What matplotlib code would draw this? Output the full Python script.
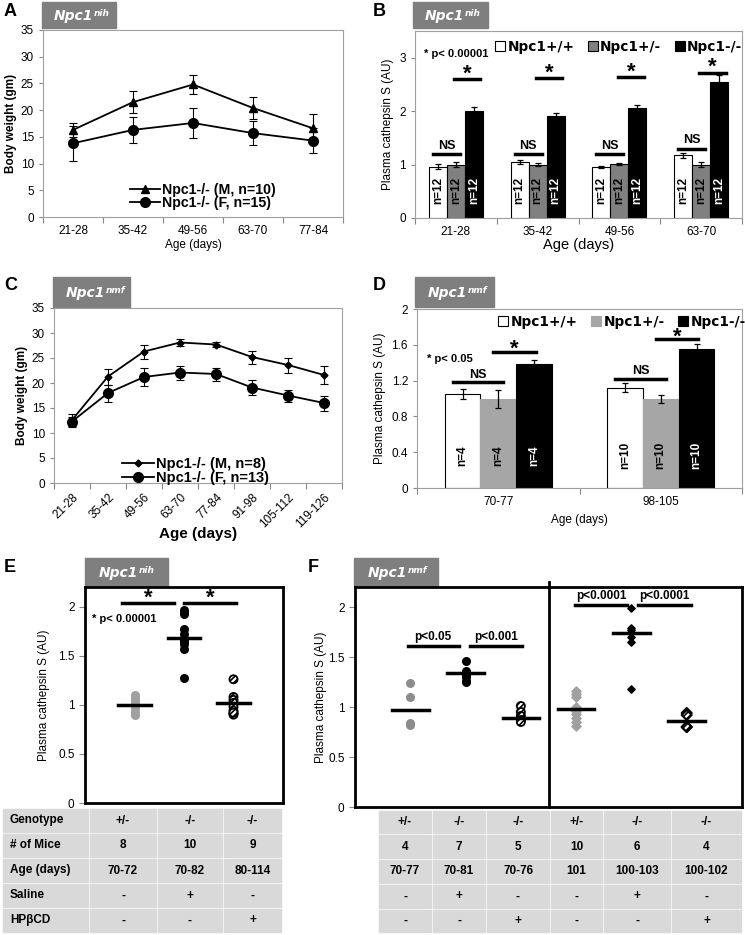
import numpy as np
import matplotlib
matplotlib.use('Agg')
from matplotlib import pyplot as plt
from matplotlib.patches import Rectangle
from matplotlib.ticker import FuncFormatter

plt.rcParams['font.family'] = ['Liberation Sans', 'DejaVu Sans']
plt.rcParams['hatch.linewidth'] = 1.2

W, H = 745, 935

# ---------------- Daten ----------------
# A: Koerpergewicht Npc1nih
alter_a = ['21-28', '35-42', '49-56', '63-70', '77-84']
a_maennlich = [16.3, 21.5, 24.8, 20.4, 16.6]
a_maennlich_err = [1.3, 2.0, 1.8, 2.1, 2.7]
a_weiblich = [13.8, 16.3, 17.6, 15.7, 14.3]
a_weiblich_err = [3.3, 2.5, 2.8, 2.2, 2.3]

# B: Cathepsin S Npc1nih
alter_b = ['21-28', '35-42', '49-56', '63-70']
b_wt = [0.96, 1.05, 0.95, 1.17]
b_wt_err = [0.05, 0.03, 0.02, 0.05]
b_het = [1.0, 1.0, 1.01, 1.0]
b_het_err = [0.04, 0.03, 0.02, 0.04]
b_ko = [2.01, 1.90, 2.05, 2.54]
b_ko_err = [0.07, 0.07, 0.06, 0.14]
b_n = ['n=12', 'n=12', 'n=12', 'n=12']
b_ns_hoehe = [1.2, 1.2, 1.2, 1.3]
b_stern_hoehe = [2.6, 2.62, 2.64, 2.72]

# C: Koerpergewicht Npc1nmf
alter_c = ['21-28', '35-42', '49-56', '63-70', '77-84', '91-98', '105-112', '119-126']
c_maennlich = [12.6, 21.3, 26.3, 28.1, 27.7, 25.2, 23.6, 21.6]
c_maennlich_err = [1.2, 1.6, 1.4, 0.7, 0.5, 1.3, 1.5, 1.8]
c_weiblich = [12.3, 18.0, 21.2, 22.1, 21.8, 19.1, 17.5, 16.0]
c_weiblich_err = [1.0, 1.7, 1.8, 1.4, 1.3, 1.5, 1.2, 1.5]

# D: Cathepsin S Npc1nmf
alter_d = ['70-77', '98-105']
d_wt = [1.05, 1.12]
d_wt_err = [0.06, 0.05]
d_het = [0.99, 0.99]
d_het_err = [0.1, 0.045]
d_ko = [1.39, 1.55]
d_ko_err = [0.045, 0.06]
d_n = ['n=4', 'n=10']
d_ns_hoehe = [1.18, 1.22]
d_stern_hoehe = [1.52, 1.66]

# E: Einzelwerte Npc1nih
e_het = [1.10, 1.08, 1.05, 1.02, 1.00, 0.97, 0.93, 0.90]
e_saline = [1.97, 1.95, 1.93, 1.77, 1.72, 1.67, 1.65, 1.62, 1.57, 1.27]
e_hpbcd = [1.26, 1.08, 1.05, 1.02, 0.98, 0.94, 0.91, 0.90, 0.92]
e_mittel = [1.0, 1.68, 1.02]

e_zeilen = ['Genotype', '# of Mice', 'Age (days)', 'Saline', 'HPβCD']
e_genotyp = ['+/-', '-/-', '-/-']
e_maeuse = ['8', '10', '9']
e_alter = ['70-72', '70-82', '80-114']
e_tab_saline = ['-', '+', '-']
e_tab_hpbcd = ['-', '-', '+']

# F: Einzelwerte Npc1nmf
f_het1 = [1.24, 1.10, 0.84, 0.82]
f_sal1 = [1.46, 1.36, 1.34, 1.33, 1.30, 1.26, 1.25]
f_hp1 = [1.01, 0.95, 0.91, 0.87, 0.85]
f_het2 = [1.16, 1.13, 1.10, 1.00, 0.98, 0.96, 0.93, 0.89, 0.85, 0.81]
f_sal2 = [1.99, 1.79, 1.77, 1.70, 1.65, 1.18]
f_hp2 = [0.94, 0.92, 0.80, 0.80]
f_mittel = [0.97, 1.34, 0.89, 0.98, 1.74, 0.86]
f_p_texte = ['p<0.05', 'p<0.001', 'p<0.0001', 'p<0.0001']

f_genotyp = ['+/-', '-/-', '-/-', '+/-', '-/-', '-/-']
f_maeuse = ['4', '7', '5', '10', '6', '4']
f_alter = ['70-77', '70-81', '70-76', '101', '100-103', '100-102']
f_tab_saline = ['-', '+', '-', '-', '+', '-']
f_tab_hpbcd = ['-', '-', '+', '-', '-', '+']

# ---------------- Figur ----------------
fig = plt.figure(figsize=(W / 100, H / 100), dpi=100)
ov = fig.add_axes([0, 0, 1, 1])
ov.set_xlim(0, W)
ov.set_ylim(H, 0)
ov.axis('off')


def achse(x0, y0, x1, y1):
    return fig.add_axes([x0 / W, 1 - y1 / H, (x1 - x0) / W, (y1 - y0) / H])


def kasten(x0, y0, x1, y1, hoch):
    ov.add_patch(Rectangle((x0, y0), x1 - x0, y1 - y0, color='#7f7f7f'))
    t = ov.text(x0 + (x1 - x0) * 0.16, (y0 + y1) / 2 + 1, 'Npc1', color='white', family='DejaVu Sans',
                fontsize=10, fontweight='bold', fontstyle='italic', va='center', ha='left')
    ov.annotate(hoch, xy=(1.02, 1.0), xycoords=t, color='white', fontsize=6.5, family='DejaVu Sans',
                fontweight='bold', fontstyle='italic', va='top', ha='left')


def buchstabe(x, y, s):
    ov.text(x, y, s, fontsize=13, fontweight='bold', va='top', ha='left')


def excel_stil(ax, n, ymax, ticks, labels, rot=0):
    ax.set_xlim(0, n)
    ax.set_ylim(0, ymax)
    ax.set_xticks(np.arange(n + 1))
    ax.set_xticklabels([])
    ax.set_xticks(np.arange(n) + 0.5, minor=True)
    ax.set_xticklabels(labels, minor=True, fontsize=8.5, rotation=rot,
                       ha='right' if rot else 'center', rotation_mode='anchor' if rot else 'default')
    ax.tick_params(axis='x', which='minor', length=0, pad=6)
    ax.tick_params(axis='x', which='major', length=4, color='#888888')
    ax.set_yticks(ticks)
    ax.yaxis.set_major_formatter(FuncFormatter(lambda v, p: f'{v:g}'))
    ax.tick_params(axis='y', length=3, color='#888888', labelsize=8.5)
    for s in ax.spines.values():
        s.set_color('#a0a0a0')
        s.set_linewidth(0.8)


def linien(ax, x, y, err, marker, ms, label):
    ax.errorbar(x, y, yerr=err, fmt='none', ecolor='k', capsize=3, elinewidth=0.8, capthick=0.8)
    ax.plot(x, y, color='k', marker=marker, ms=ms, lw=1.3, label=label)


bar_legende = dict(loc='center left', ncol=3, frameon=False, handlelength=0.75, handleheight=0.75,
                   handletextpad=0.15, columnspacing=1.0, borderpad=0, borderaxespad=0,
                   prop=dict(family='DejaVu Sans', weight='bold', size=9.8))

# ---- A ----
buchstabe(4, 3, 'A')
kasten(42, 2, 116, 28, 'nih')
ax = achse(43, 30, 343, 217)
excel_stil(ax, 5, 35, range(0, 36, 5), alter_a)
xa = np.arange(len(alter_a)) + 0.5
linien(ax, xa, a_maennlich, a_maennlich_err, '^', 6, 'Npc1-/- (M, n=10)')
linien(ax, xa, a_weiblich, a_weiblich_err, 'o', 7, 'Npc1-/- (F, n=15)')
ax.legend(loc='center left', bbox_to_anchor=(0.29, 0.11), frameon=False, handlelength=2.1,
          handletextpad=0.15, labelspacing=-0.08, borderpad=0, borderaxespad=0,
          prop=dict(weight='bold', size=10.2))
ax.set_ylabel('Body weight (gm)', fontsize=8.5, fontweight='bold', labelpad=3)
ax.set_xlabel('Age (days)', fontsize=8.5, labelpad=1)

# ---- B ----
buchstabe(373, 3, 'B')
kasten(413, 2, 488, 28, 'nih')
ax = achse(415, 31, 742, 218)
excel_stil(ax, 4, 3.5, [0, 1, 2, 3], alter_b)
xb = np.arange(len(alter_b)) + 0.5
bw = 0.22
fk = dict(capsize=2.5, elinewidth=0.9, capthick=0.9)
ax.bar(xb - bw, b_wt, bw, yerr=b_wt_err, color='white', edgecolor='k', lw=0.8, error_kw=fk, label='Npc1+/+')
ax.bar(xb, b_het, bw, yerr=b_het_err, color='#808080', edgecolor='k', lw=0.8, error_kw=fk, label='Npc1+/-')
ax.bar(xb + bw, b_ko, bw, yerr=b_ko_err, color='black', edgecolor='k', lw=0.8, error_kw=fk, label='Npc1-/-')
for i, xc in enumerate(xb):
    for k, farbe in enumerate(['k', 'k', 'white']):
        ax.text(xc + (k - 1) * bw, 0.52, b_n[i], rotation=90, ha='center', va='center',
                color=farbe, fontsize=8.5, fontweight='bold')
    ax.plot([xc - 0.28, xc + 0.05], [b_ns_hoehe[i]] * 2, color='k', lw=2.5)
    ax.text(xc - 0.115, b_ns_hoehe[i] + 0.04, 'NS', ha='center', va='bottom', fontsize=9, fontweight='bold')
    ax.plot([xc - 0.02, xc + 0.30], [b_stern_hoehe[i]] * 2, color='k', lw=2.5)
    ax.text(xc + 0.14, b_stern_hoehe[i] - 0.1, '*', ha='center', va='bottom', fontsize=16, fontweight='bold')
ax.text(0.11, 3.07, '* p< 0.00001', ha='left', va='center', fontsize=8, fontweight='bold')
ax.legend(bbox_to_anchor=(0.245, 0.914), **bar_legende)
ax.set_ylabel('Plasma cathepsin S (AU)', fontsize=8.5, labelpad=4)
ax.set_xlabel('Age (days)', fontsize=10.5, labelpad=0)

# ---- C ----
buchstabe(4, 277, 'C')
kasten(53, 277, 130, 307, 'nmf')
ax = achse(54, 308, 342, 483)
excel_stil(ax, 8, 35, range(0, 36, 5), alter_c, rot=45)
xc8 = np.arange(len(alter_c)) + 0.5
linien(ax, xc8, c_maennlich, c_maennlich_err, 'D', 3.5, 'Npc1-/- (M, n=8)')
linien(ax, xc8, c_weiblich, c_weiblich_err, 'o', 7, 'Npc1-/- (F, n=13)')
ax.legend(loc='center left', bbox_to_anchor=(0.235, 0.07), frameon=False, handlelength=2.2,
          handletextpad=0.15, labelspacing=0.0, borderpad=0, borderaxespad=0,
          prop=dict(weight='bold', size=10.5))
ax.set_ylabel('Body weight (gm)', fontsize=8.5, fontweight='bold', labelpad=3)
ax.set_xlabel('Age (days)', fontsize=11, fontweight='bold', labelpad=-2)

# ---- D ----
buchstabe(373, 277, 'D')
kasten(415, 277, 494, 307, 'nmf')
ax = achse(417, 309, 742, 488)
excel_stil(ax, 2, 2, [0, 0.4, 0.8, 1.2, 1.6, 2.0], alter_d)
xd = np.arange(len(alter_d)) + 0.5
ax.bar(xd - bw, d_wt, bw, yerr=d_wt_err, color='white', edgecolor='k', lw=0.8, error_kw=fk, label='Npc1+/+')
ax.bar(xd, d_het, bw, yerr=d_het_err, color='#a6a6a6', edgecolor='#a6a6a6', lw=0.8, error_kw=fk, label='Npc1+/-')
ax.bar(xd + bw, d_ko, bw, yerr=d_ko_err, color='black', edgecolor='k', lw=0.8, error_kw=fk, label='Npc1-/-')
for i, xc in enumerate(xd):
    for k, farbe in enumerate(['k', 'k', 'white']):
        ax.text(xc + (k - 1) * bw, 0.36, d_n[i], rotation=90, ha='center', va='center',
                color=farbe, fontsize=8.5, fontweight='bold')
    ax.plot([xc - 0.28, xc + 0.03], [d_ns_hoehe[i]] * 2, color='k', lw=2.5)
    ax.text(xc - 0.125, d_ns_hoehe[i] + 0.02, 'NS', ha='center', va='bottom', fontsize=9, fontweight='bold')
    ax.plot([xc - 0.03, xc + 0.23], [d_stern_hoehe[i]] * 2, color='k', lw=2.5)
    ax.text(xc + 0.10, d_stern_hoehe[i] - 0.09, '*', ha='center', va='bottom', fontsize=16, fontweight='bold')
ax.text(0.06, 1.44, '* p< 0.05', ha='left', va='center', fontsize=8, fontweight='bold')
ax.legend(bbox_to_anchor=(0.25, 0.93), **bar_legende)
ax.set_ylabel('Plasma cathepsin S (AU)', fontsize=8.5, labelpad=4)
ax.set_xlabel('Age (days)', fontsize=8.5, labelpad=4)


def punkt_stil(ax, n, pad):
    ax.set_xlim(0, n)
    ax.set_ylim(0, 2.2)
    ax.set_xticks([])
    ax.set_yticks([0, 0.5, 1, 1.5, 2])
    ax.yaxis.set_major_formatter(FuncFormatter(lambda v, p: f'{v:g}'))
    ax.tick_params(axis='y', length=4, color='#888888', labelsize=8.5, width=0.8)
    for s in ax.spines.values():
        s.set_color('black')
        s.set_linewidth(2)
    ax.set_ylabel('Plasma cathepsin S (AU)', fontsize=8.5, labelpad=pad)


def klammer(ax, x0, x1, y, text, size, dy):
    ax.plot([x0, x1], [y, y], color='k', lw=2.5, clip_on=False)
    ax.text((x0 + x1) / 2, y + dy, text, ha='center', va='bottom', fontsize=size, fontweight='bold')


# ---- E ----
buchstabe(4, 559, 'E')
kasten(85, 558, 168, 586, 'nih')
ax = achse(85, 587, 283, 803)
punkt_stil(ax, 4, 6)
ax.scatter([1] * len(e_het), e_het, s=30, color='#a0a0a0', zorder=3)
ax.scatter([2] * len(e_saline), e_saline, s=30, color='black', zorder=3)
ax.scatter([3] * len(e_hpbcd), e_hpbcd, s=34, facecolor='white', edgecolor='black',
           hatch='//////', linewidths=1.3, zorder=3)
for i, m in enumerate(e_mittel):
    ax.plot([i + 1 - 0.33, i + 1 + 0.33], [m, m], color='k', lw=2.5, zorder=4)
klammer(ax, 0.75, 1.8, 2.04, '*', 16, -0.06)
klammer(ax, 2.0, 3.05, 2.04, '*', 16, -0.06)
ax.text(0.15, 1.87, '* p< 0.00001', ha='left', va='center', fontsize=8, fontweight='bold')

# ---- F ----
buchstabe(308, 559, 'F')
kasten(354, 558, 438, 586, 'nmf')
ax = achse(355, 587, 742, 807)
punkt_stil(ax, 7, 1)
ax.scatter([1] * len(f_het1), f_het1, s=30, color='#8c8c8c', zorder=3)
ax.scatter([2] * len(f_sal1), f_sal1, s=30, color='black', zorder=3)
ax.scatter([3] * len(f_hp1), f_hp1, s=34, facecolor='white', edgecolor='black',
           hatch='//////', linewidths=1.3, zorder=3)
ax.scatter([4] * len(f_het2), f_het2, s=22, marker='D', color='#a0a0a0', zorder=3)
ax.scatter([5] * len(f_sal2), f_sal2, s=14, marker='D', color='black', zorder=3)
ax.scatter([6] * len(f_hp2), f_hp2, s=26, marker='D', facecolor='white', edgecolor='black',
           hatch='//////', linewidths=1.5, zorder=3)
for i, m in enumerate(f_mittel):
    ax.plot([i + 1 - 0.33, i + 1 + 0.33], [m, m], color='k', lw=2.5, zorder=4)
ax.plot([3.5, 3.5], [0, 2.25], color='k', lw=2, clip_on=False)
klammer(ax, 0.95, 1.88, 1.61, f_p_texte[0], 8.5, 0.03)
klammer(ax, 2.08, 3.02, 1.61, f_p_texte[1], 8.5, 0.03)
klammer(ax, 3.98, 4.92, 2.02, f_p_texte[2], 8.5, 0.03)
klammer(ax, 5.12, 6.08, 2.02, f_p_texte[3], 8.5, 0.03)


# ---- Tabellen ----
def tabelle(x_kanten, y_kanten, spalten, links_erste=False):
    for c, werte in enumerate(spalten):
        for r, wert in enumerate(werte):
            x0, x1 = x_kanten[c], x_kanten[c + 1]
            y0, y1 = y_kanten[r], y_kanten[r + 1]
            ov.add_patch(Rectangle((x0 + 1, y0 + 1), x1 - x0 - 2, y1 - y0 - 2, color='#d9d9d9'))
            if links_erste and c == 0:
                ov.text(x0 + 8, (y0 + y1) / 2, wert, ha='left', va='center', fontsize=8.5, fontweight='bold')
            else:
                ov.text((x0 + x1) / 2, (y0 + y1) / 2, wert, ha='center', va='center', fontsize=8.5, fontweight='bold')


e_spalten = [e_zeilen] + [list(z) for z in zip(e_genotyp, e_maeuse, e_alter, e_tab_saline, e_tab_hpbcd)]
tabelle([2, 89, 157, 223, 282], [808, 833, 858, 883, 908, 933], e_spalten, links_erste=True)
f_spalten = [list(z) for z in zip(f_genotyp, f_maeuse, f_alter, f_tab_saline, f_tab_hpbcd)]
tabelle([378, 432, 486, 550, 603, 671, 742], [810, 834, 859, 884, 909, 933], f_spalten)

fig.savefig('out.png', dpi=100)
